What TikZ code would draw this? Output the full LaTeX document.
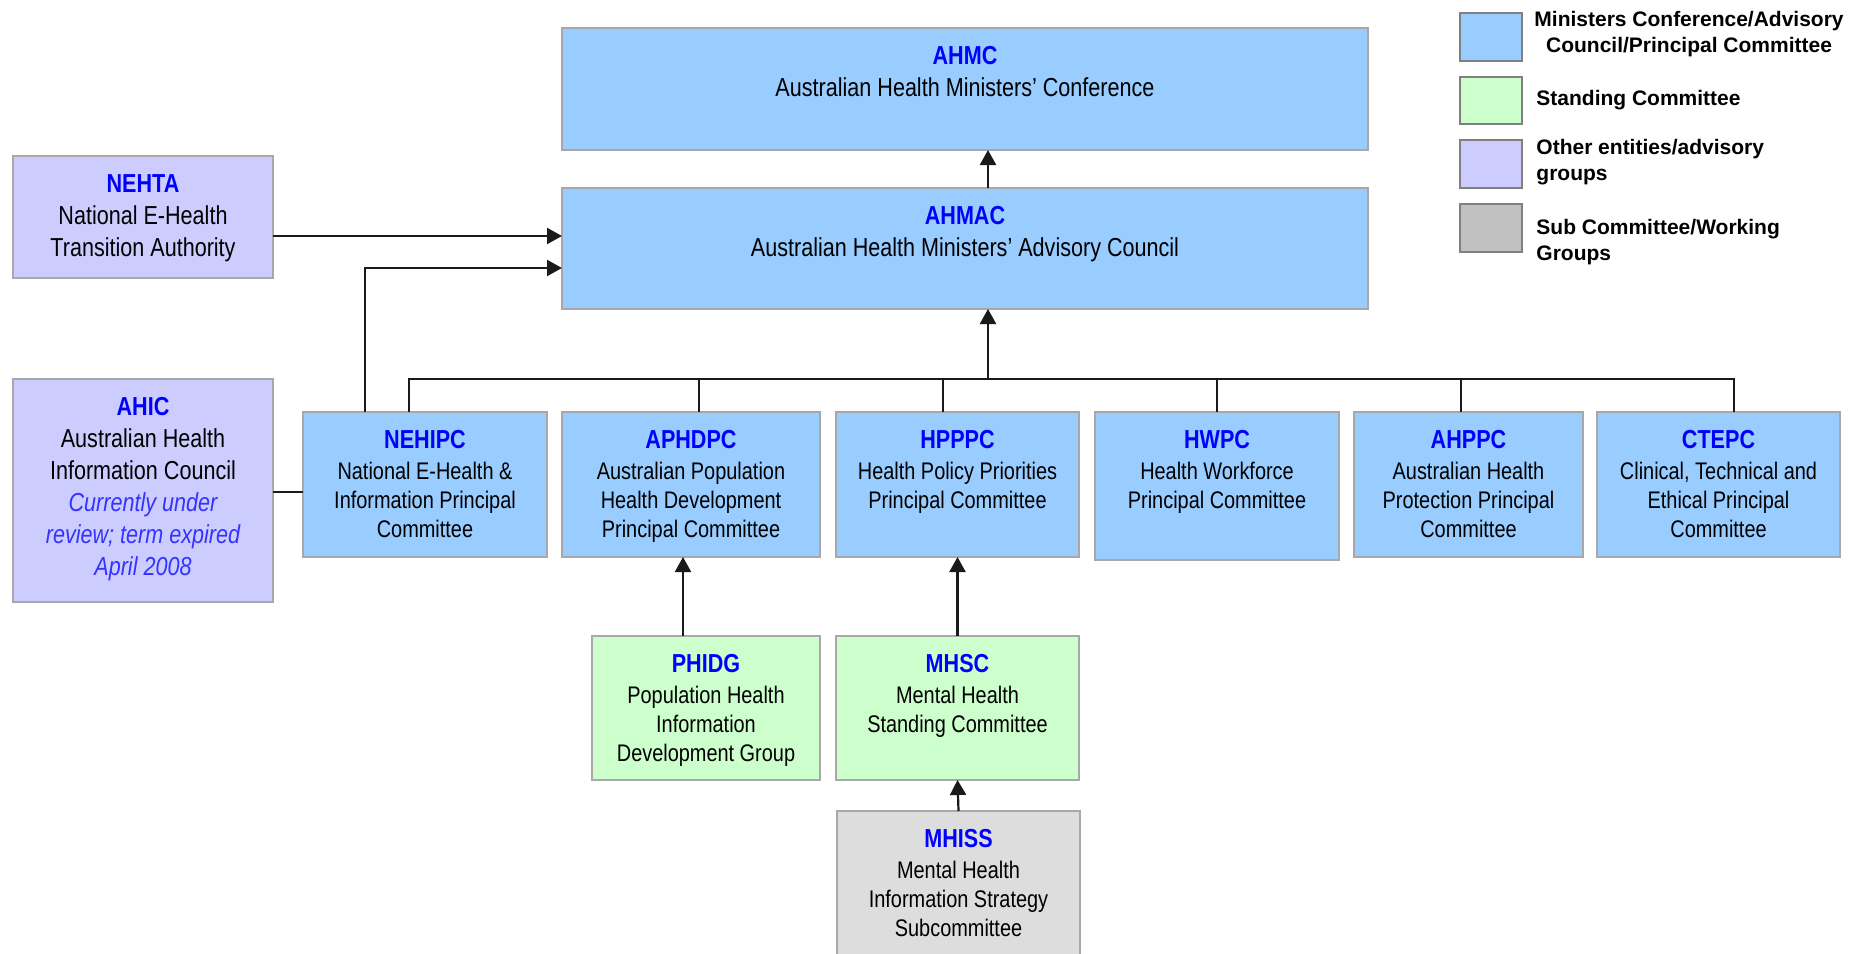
\documentclass[tikz,border=0pt]{standalone}
\usepackage{fontspec}
\setmainfont{Liberation Sans}
\newfontfamily\narrowfont[FakeStretch=0.83]{Liberation Sans}
\usetikzlibrary{arrows.meta,fit}
\definecolor{pcblue}{HTML}{99CCFF}
\definecolor{scgreen}{HTML}{CCFFCC}
\definecolor{othlav}{HTML}{CCCCFF}
\definecolor{subgray}{HTML}{DDDDDD}
\definecolor{leggray}{HTML}{C0C0C0}
\definecolor{boxborder}{HTML}{A8A8A8}
\definecolor{legborder}{HTML}{808080}
\definecolor{ttlblue}{HTML}{0000FF}
\definecolor{noteblue}{HTML}{3333FF}
\definecolor{linecol}{HTML}{1A1A1A}
\newcommand\ttl[1]{{\bfseries\fontsize{13}{16}\selectfont\color{ttlblue}#1}}
\newcommand\notetxt[1]{{\itshape\color{noteblue}#1}}
\tikzset{
  box/.style={draw=boxborder, line width=0.7pt, inner sep=0pt, outer sep=0pt},
  bluebox/.style={box, fill=pcblue},
  greenbox/.style={box, fill=scgreen},
  lavbox/.style={box, fill=othlav},
  graybox/.style={box, fill=subgray},
  legbox/.style={draw=legborder, line width=0.7pt, inner sep=0pt, outer sep=0pt},
  toptxt/.style={anchor=north, align=center, inner sep=0pt, yshift=-9pt,
    font=\narrowfont\fontsize{13}{16}\selectfont},
  lowtxt/.style={anchor=north, align=center, inner sep=0pt, yshift=-9pt,
    font=\narrowfont\fontsize{12}{14.5}\selectfont},
  legtxt/.style={anchor=west, inner sep=0pt, font=\bfseries\fontsize{10.5}{13}\selectfont},
  conn/.style={draw=linecol, line width=1.1pt},
  arr/.style={conn, -{Triangle[length=7.5pt,width=8pt]}},
}
\begin{document}
\begin{tikzpicture}[x=0.5pt,y=-0.5pt]
\useasboundingbox (0,0) rectangle (1852,953);
\fill[white] (0,0) rectangle (1852,953);

% boxes
\node[bluebox, fit={(562,28) (1368,150)}] (ahmc) {};
\node[bluebox, fit={(562,188) (1368,309)}] (ahmac) {};
\node[lavbox, fit={(13,156) (273,278)}] (nehta) {};
\node[lavbox, fit={(13,379) (273,602)}] (ahic) {};
\node[bluebox, fit={(303,412) (547,557)}] (nehipc) {};
\node[bluebox, fit={(562,412) (820,557)}] (aphdpc) {};
\node[bluebox, fit={(836,412) (1079,557)}] (hpppc) {};
\node[bluebox, fit={(1095,412) (1339,560)}] (hwpc) {};
\node[bluebox, fit={(1354,412) (1583,557)}] (ahppc) {};
\node[bluebox, fit={(1597,412) (1840,557)}] (ctepc) {};
\node[greenbox, fit={(592,636) (820,780)}] (phidg) {};
\node[greenbox, fit={(836,636) (1079,780)}] (mhsc) {};
\node[graybox, fit={(837,811) (1080,962)}] (mhiss) {};

% texts
\node[toptxt] (ahmc-t) at (ahmc.north) {\ttl{AHMC}\\Australian Health Ministers’ Conference};
\node[toptxt] (ahmac-t) at (ahmac.north) {\ttl{AHMAC}\\Australian Health Ministers’ Advisory Council};
\node[toptxt] (nehta-t) at (nehta.north) {\ttl{NEHTA}\\National E-Health\\Transition Authority};
\node[toptxt] (ahic-t) at (ahic.north) {\ttl{AHIC}\\Australian Health\\Information Council\\\notetxt{Currently under}\\\notetxt{review; term expired}\\\notetxt{April 2008}};
\node[lowtxt] (nehipc-t) at (nehipc.north) {\ttl{NEHIPC}\\[1pt]National E-Health \&\\Information Principal\\Committee};
\node[lowtxt] (aphdpc-t) at (aphdpc.north) {\ttl{APHDPC}\\[1pt]Australian Population\\Health Development\\Principal Committee};
\node[lowtxt] (hpppc-t) at (hpppc.north) {\ttl{HPPPC}\\[1pt]Health Policy Priorities\\Principal Committee};
\node[lowtxt] (hwpc-t) at (hwpc.north) {\ttl{HWPC}\\[1pt]Health Workforce\\Principal Committee};
\node[lowtxt] (ahppc-t) at (ahppc.north) {\ttl{AHPPC}\\[1pt]Australian Health\\Protection Principal\\Committee};
\node[lowtxt] (ctepc-t) at (ctepc.north) {\ttl{CTEPC}\\[1pt]Clinical, Technical and\\Ethical Principal\\Committee};
\node[lowtxt] (phidg-t) at (phidg.north) {\ttl{PHIDG}\\[1pt]Population Health\\Information\\Development Group};
\node[lowtxt] (mhsc-t) at (mhsc.north) {\ttl{MHSC}\\[1pt]Mental Health\\Standing Committee};
\node[lowtxt] (mhiss-t) at (mhiss.north) {\ttl{MHISS}\\[1pt]Mental Health\\Information Strategy\\Subcommittee};

% legend
\node[legbox, fill=pcblue, fit={(1460,13) (1522,61)}] (leg1) {};
\node[legbox, fill=scgreen, fit={(1460,77) (1522,124)}] (leg2) {};
\node[legbox, fill=othlav, fit={(1460,140) (1522,188)}] (leg3) {};
\node[legbox, fill=leggray, fit={(1460,204) (1522,252)}] (leg4) {};
\node[legtxt, align=center] (leg1-t) at (1534,34) {Ministers Conference/Advisory\\Council/Principal Committee};
\node[legtxt] (leg2-t) at (1536,100) {Standing Committee};
\node[legtxt, align=left] (leg3-t) at (1536,162) {Other entities/advisory\\groups};
\node[legtxt, align=left] (leg4-t) at (1536,242) {Sub Committee/Working\\Groups};

% helper coordinates
\coordinate (spine) at (988,379);
\coordinate (ya) at (0,236);
\coordinate (yb) at (365,268);
\coordinate (yc) at (0,492);
\coordinate (xd) at (683,0);
\coordinate (d1) at (409,379);
\coordinate (d2) at (699,379);
\coordinate (d3) at (943,379);
\coordinate (d4) at (1217,379);
\coordinate (d5) at (1461,379);
\coordinate (d6) at (1734,379);

% connectors
\draw[arr] (ahmac.north -| spine) -- (ahmc.south -| spine);
\draw[arr] (nehta.east |- ya) -- (ahmac.west |- ya);
\draw[arr] (nehipc.north -| yb) -- (yb) -- (ahmac.west |- yb);
\draw[arr] (spine) -- (ahmac.south -| spine);
\draw[conn] (nehipc.north -| d1) -- (d1) -- (d6) -- (ctepc.north -| d6);
\draw[conn] (d2) -- (aphdpc.north -| d2);
\draw[conn] (d3) -- (hpppc.north -| d3);
\draw[conn] (d4) -- (hwpc.north -| d4);
\draw[conn] (d5) -- (ahppc.north -| d5);
\draw[conn] (ahic.east |- yc) -- (nehipc.west |- yc);
\draw[arr] (phidg.north -| xd) -- (aphdpc.south -| xd);
\draw[arr] (mhsc.north) -- (hpppc.south);
\draw[arr] (mhiss.north) -- (mhsc.south);
\end{tikzpicture}
\end{document}
